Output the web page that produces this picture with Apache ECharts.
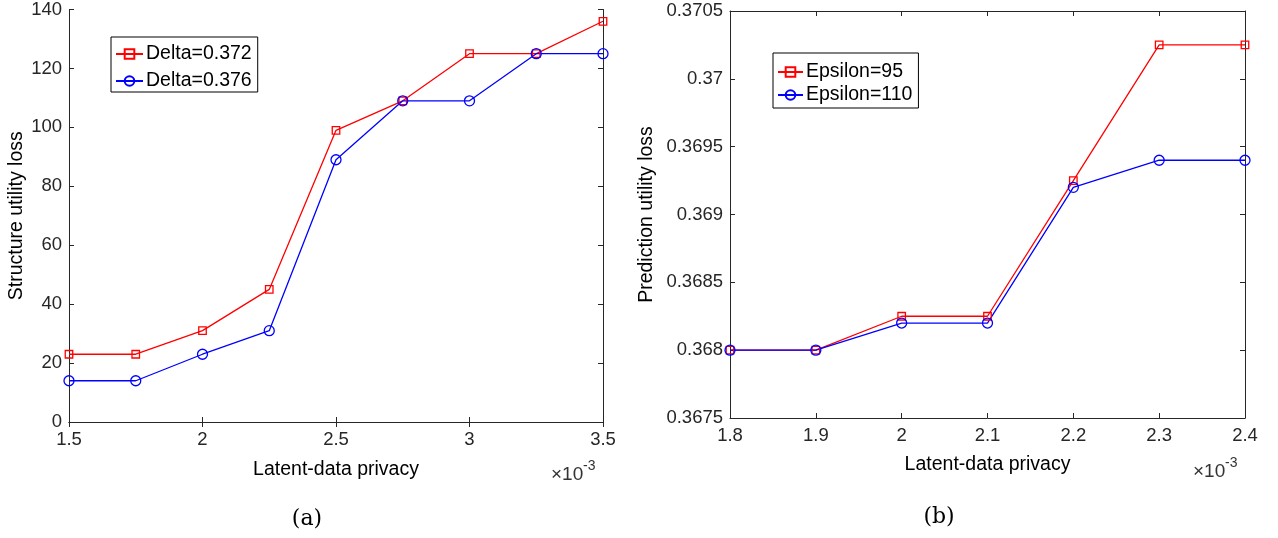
<!DOCTYPE html>
<html><head><meta charset="utf-8">
<script src="https://cdn.jsdelivr.net/npm/echarts@6/dist/echarts.min.js"></script>
<style>html,body{margin:0;padding:0;background:#fff}#c{width:1278px;height:538px}</style>
</head><body><div id="c"></div>
<script>
// Panel (a)
const xA = [1.5, 1.75, 2, 2.25, 2.5, 2.75, 3, 3.25, 3.5];
const delta372 = [23, 23, 31, 45, 99, 109, 125, 125, 136];
const delta376 = [14, 14, 23, 31, 89, 109, 109, 125, 125];
// Panel (b)
const xB = [1.8, 1.9, 2.0, 2.1, 2.2, 2.3, 2.4];
const eps95 = [0.368, 0.368, 0.36825, 0.36825, 0.36925, 0.37025, 0.37025];
const eps110 = [0.368, 0.368, 0.3682, 0.3682, 0.3692, 0.3694, 0.3694];

const pair = (xs, ys) => xs.map((x, i) => [x, ys[i]]);
const FONT = 'Liberation Sans';
const AX = '#262626';
const TICKFS = 18.5, TITLEFS = 19.5, LEGFS = 19.5;
const lab = {color: AX, fontSize: TICKFS, fontFamily: FONT};
const fmt = v => String(parseFloat(v.toFixed(4)));

function xAxisFor(gi, min, max, interval, name, gap) {
  return [{
    type: 'value', gridIndex: gi, min, max, interval, position: 'bottom',
    name, nameLocation: 'middle', nameGap: gap,
    nameTextStyle: {color: '#000', fontSize: TITLEFS, fontFamily: FONT},
    axisLine: {show: true, lineStyle: {color: AX, width: 1}},
    axisTick: {show: true, inside: true, length: 5, lineStyle: {color: AX}},
    axisLabel: Object.assign({margin: 8, formatter: fmt}, lab),
    splitLine: {show: false}
  }, {
    type: 'value', gridIndex: gi, min, max, interval, position: 'top',
    axisLine: {show: true, lineStyle: {color: AX, width: 1}},
    axisTick: {show: true, inside: true, length: 5, lineStyle: {color: AX}},
    axisLabel: {show: false}, splitLine: {show: false}
  }];
}
function yAxisFor(gi, min, max, interval, name, gap) {
  return [{
    type: 'value', gridIndex: gi, min, max, interval, position: 'left',
    name, nameLocation: 'middle', nameGap: gap,
    nameTextStyle: {color: '#000', fontSize: TITLEFS, fontFamily: FONT},
    axisLine: {show: true, lineStyle: {color: AX, width: 1}},
    axisTick: {show: true, inside: true, length: 5, lineStyle: {color: AX}},
    axisLabel: Object.assign({margin: 7, formatter: fmt}, lab),
    splitLine: {show: false}
  }, {
    type: 'value', gridIndex: gi, min, max, interval, position: 'right',
    axisLine: {show: true, lineStyle: {color: AX, width: 1}},
    axisTick: {show: true, inside: true, length: 5, lineStyle: {color: AX}},
    axisLabel: {show: false}, splitLine: {show: false}
  }];
}

function ser(name, data, xi, yi, color, symbol, size) {
  return {
    type: 'line', name, data, xAxisIndex: xi, yAxisIndex: yi,
    symbol, symbolSize: size, showAllSymbol: true,
    lineStyle: {color, width: 1.3},
    itemStyle: {color: 'rgba(255,255,255,0)', borderColor: color, borderWidth: 1.3},
    emphasis: {disabled: true}, animation: false, z: 3
  };
}

const chart = echarts.init(document.getElementById('c'), null, {renderer: 'canvas'});
function legendFor(left, top, data, gap, pad, iw) {
  return {
    left, top, data, orient: 'vertical', backgroundColor: '#fff', borderColor: '#000', borderWidth: 1,
    padding: pad, itemGap: gap, itemWidth: iw, itemHeight: 12,
    textStyle: {color: '#000', fontSize: LEGFS, fontFamily: FONT, lineHeight: 22, padding: [0, 0, 0, -2]}
  };
}
const superText = (x, y, base, sup) => [
  {type: 'text', x: x, y: y, style: {text: base, fill: '#333', fontSize: 19, fontFamily: FONT, verticalAlign: 'middle'}},
  {type: 'text', x: x + 32, y: y - 9, style: {text: sup, fill: '#333', fontSize: 14, fontFamily: FONT, verticalAlign: 'middle'}}
];

chart.setOption({
  animation: false,
  grid: [
    {left: 69, top: 8, width: 534, height: 414},
    {left: 730, top: 11, width: 515, height: 407}
  ],
  xAxis: [...xAxisFor(0, 1.5, 3.5, 0.5, 'Latent-data privacy', 38),
          ...xAxisFor(1, 1.8, 2.4, 0.1, 'Latent-data privacy', 37)],
  yAxis: [...yAxisFor(0, 0, 140, 20, 'Structure utility loss', 42),
          ...yAxisFor(1, 0.3675, 0.3705, 0.0005, 'Prediction utility loss', 73)],
  legend: [
    legendFor(111, 37, ['Delta=0.372', 'Delta=0.376'], 5, [6, 6, 0, 4], 27),
    legendFor(773, 53, ['Epsilon=95', 'Epsilon=110'], 1, [8, 6, 2, 4], 25)
  ],
  series: [
    ser('Delta=0.372', pair(xA, delta372), 0, 0, '#ff0000', 'rect', 7.5),
    ser('Delta=0.376', pair(xA, delta376), 0, 0, '#0000ff', 'circle', 10),
    ser('Epsilon=95', pair(xB, eps95), 2, 2, '#ff0000', 'rect', 7.5),
    ser('Epsilon=110', pair(xB, eps110), 2, 2, '#0000ff', 'circle', 10)
  ],
  graphic: [
    ...superText(551, 475, '×10', '-3'),
    ...superText(1193, 472, '×10', '-3'),
    {type: 'text', x: 307, y: 519, style: {text: '(a)', fill: '#000', fontSize: 22, fontFamily: 'DejaVu Serif', align: 'center', verticalAlign: 'middle'}},
    {type: 'text', x: 939, y: 517, style: {text: '(b)', fill: '#000', fontSize: 22, fontFamily: 'DejaVu Serif', align: 'center', verticalAlign: 'middle'}}
  ]
});
</script></body></html>
